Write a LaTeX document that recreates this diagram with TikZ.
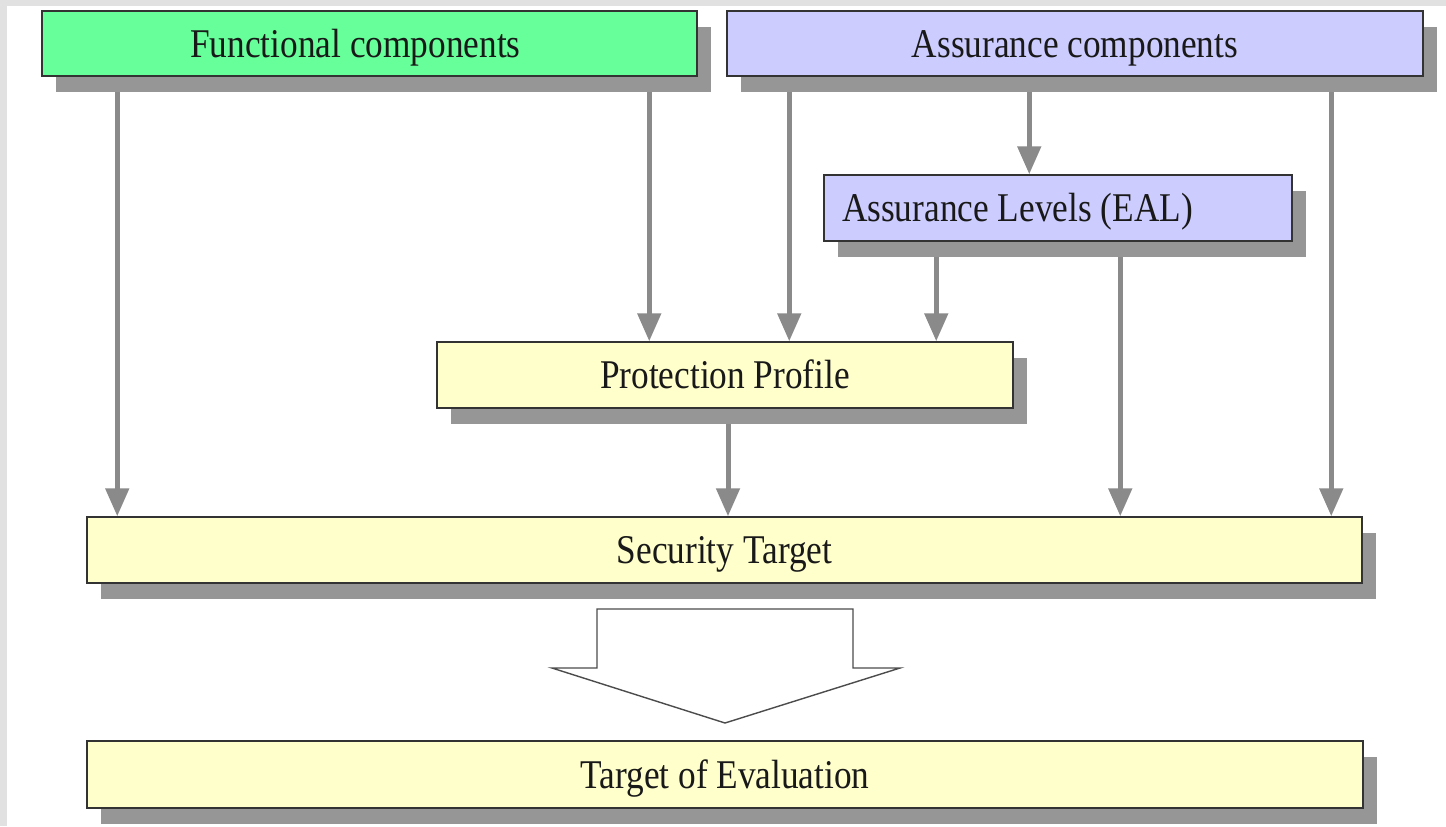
\documentclass[tikz,border=0pt]{standalone}
\usepackage{fontspec}
\setmainfont{Liberation Serif}[FakeStretch=0.865]
\usetikzlibrary{arrows.meta,shadows,backgrounds,calc}
\definecolor{fcgreen}{RGB}{102,255,153}
\definecolor{aclav}{RGB}{204,204,255}
\definecolor{boxyel}{RGB}{255,255,204}
\definecolor{shgrey}{RGB}{150,150,150}
\definecolor{argrey}{RGB}{138,138,138}
\definecolor{edgegrey}{RGB}{225,225,225}
\definecolor{txt}{RGB}{25,25,25}
\tikzset{
  boxbase/.style={draw=black!80, line width=0.75pt, inner sep=0pt, text=txt,
    font=\fontsize{20.4pt}{24pt}\selectfont, text height=16pt, text depth=2.5pt,
    drop shadow={shadow xshift=7pt, shadow yshift=-8pt, fill=shgrey, opacity=1}},
  fcbox/.style={boxbase, fill=fcgreen},
  acbox/.style={boxbase, fill=aclav},
  ybox/.style={boxbase, fill=boxyel},
  arr/.style={draw=argrey, line width=2.5pt, -{Triangle[width=11.5pt,length=14pt]}},
  bigarrow/.style={draw=black!70, line width=0.7pt, fill=white}
}
\begin{document}
\begin{tikzpicture}[x=0.5pt,y=-0.5pt]
\useasboundingbox (0,0) rectangle (1446,826);

\node[fcbox, minimum width=327.5pt, minimum height=32.5pt] (fc) at (369.5,43.5) {Functional components\rule{14pt}{0pt}};
\node[acbox, minimum width=348pt, minimum height=32.5pt] (ac) at (1075,43.5) {Assurance components};
\node[acbox, minimum width=234pt, minimum height=33pt, text width=216pt, inner xsep=9pt, align=flush left] (eal) at (1058,208) {Assurance Levels (EAL)};
\node[ybox, minimum width=288pt, minimum height=33pt] (pp) at (725,375) {Protection Profile};
\node[ybox, minimum width=637.5pt, minimum height=33pt] (st) at (724.5,550) {Security Target};
\node[ybox, minimum width=638pt, minimum height=33.5pt] (toe) at (725,774.5) {Target of Evaluation};

\begin{scope}[on background layer]
\fill[white] (0,0) rectangle (1446,826);
\fill[edgegrey] (0,0) rectangle (1446,6);
\fill[edgegrey] (0,0) rectangle (7,826);
\draw[arr] ([xshift=38pt]fc.south west) -- ([xshift=38pt]fc.south west |- st.north);
\draw[arr] ([xshift=304pt]fc.south west) -- ([xshift=304pt]fc.south west |- pp.north);
\draw[arr] ([xshift=31.5pt]ac.south west) -- ([xshift=31.5pt]ac.south west |- pp.north);
\draw[arr] ([xshift=151.5pt]ac.south west) -- ([xshift=151.5pt]ac.south west |- eal.north);
\draw[arr] ([xshift=302.5pt]ac.south west) -- ([xshift=302.5pt]ac.south west |- st.north);
\draw[arr] ([xshift=56.5pt]eal.south west) -- ([xshift=56.5pt]eal.south west |- pp.north);
\draw[arr] ([xshift=148.5pt]eal.south west) -- ([xshift=148.5pt]eal.south west |- st.north);
\draw[arr] ([xshift=1.5pt]pp.south) -- ([xshift=1.5pt]pp.south |- st.north);
\end{scope}

\draw[bigarrow] (597,609) -- (853,609) -- (853,668) -- (900,668) -- (725,723) -- (552,668) -- (597,668) -- cycle;
\end{tikzpicture}
\end{document}
